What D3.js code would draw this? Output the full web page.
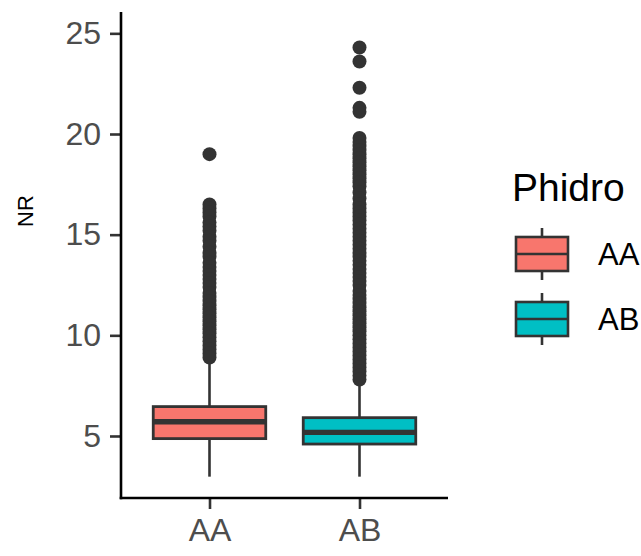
<!DOCTYPE html>
<html>
<head>
<meta charset="utf-8">
<script src="https://cdn.jsdelivr.net/npm/d3@7"></script>
<style>
  html, body { margin: 0; padding: 0; background: #fff; }
  svg { display: block; font-family: "Liberation Sans", Arial, sans-serif; }
</style>
</head>
<body>
<svg id="chart" width="641" height="556"></svg>
<script>
// Genotype groups on the x axis
const categories = ["AA", "AB"];
const fills = ["#F8766D", "#00BFC4"];

// Five-number summaries of NR per group
const lowerWhisker = [2.98, 2.98];
const q1 = [4.87, 4.60];
const median = [5.71, 5.18];
const q3 = [6.46, 5.91];
const upperWhisker = [8.85, 7.70];

// Outlying NR observations
const outliersAA = [19.0, 16.5, 16.3, 16.1, 15.9, 15.6, 15.4, 15.2, 14.9, 14.7, 14.4,
  14.1, 13.9, 13.6, 13.4, 13.2, 13.0, 12.8, 12.6, 12.4, 12.1, 11.9, 11.7, 11.5, 11.3,
  11.1, 10.9, 10.7, 10.5, 10.3, 10.1, 9.9, 9.7, 9.5, 9.3, 9.1, 8.9];
const outliersAB = [24.3, 23.6, 22.3, 21.3, 21.1, 19.8, 19.6, 19.4, 19.2, 19.0, 18.8,
  18.6, 18.4, 18.2, 18.0, 17.8, 17.6, 17.4, 17.1, 16.8, 16.5, 16.3, 16.1, 15.9, 15.7,
  15.5, 15.3, 15.1, 14.9, 14.7, 14.5, 14.3, 14.1, 13.9, 13.7, 13.5, 13.3, 13.1, 12.9,
  12.7, 12.5, 12.2, 12.0, 11.8, 11.6, 11.4, 11.2, 11.0, 10.8, 10.6, 10.4, 10.2, 10.0,
  9.8, 9.6, 9.4, 9.2, 9.0, 8.8, 8.6, 8.4, 8.2, 8.0, 7.8];
const outliers = [outliersAA, outliersAB];

const yTicks = [5, 10, 15, 20, 25];
const yTitle = "NR";
const legendTitle = "Phidro";

const svg = d3.select("#chart");
const ink = "#333333";

const panel = { left: 121, right: 448, top: 12, bottom: 498 };

const y = d3.scaleLinear().domain([1.92, 26.06]).range([panel.bottom, panel.top]);
const x = d3.scalePoint().domain(categories).range([panel.left, panel.right]).padding(0.59);
const boxW = x.step() * 0.75;

// Boxes, whiskers and outliers
const groups = svg.append("g").selectAll("g")
  .data(categories.map((c, i) => ({
    c, fill: fills[i], lo: lowerWhisker[i], q1: q1[i], med: median[i],
    q3: q3[i], hi: upperWhisker[i], out: outliers[i]
  })))
  .join("g");

groups.append("line")
  .attr("x1", d => x(d.c)).attr("x2", d => x(d.c))
  .attr("y1", d => y(d.q3)).attr("y2", d => y(d.hi))
  .attr("stroke", ink).attr("stroke-width", 2.6);
groups.append("line")
  .attr("x1", d => x(d.c)).attr("x2", d => x(d.c))
  .attr("y1", d => y(d.q1)).attr("y2", d => y(d.lo))
  .attr("stroke", ink).attr("stroke-width", 2.6);

groups.selectAll("circle")
  .data(d => d.out.map(v => ({ c: d.c, v })))
  .join("circle")
  .attr("cx", d => x(d.c)).attr("cy", d => y(d.v)).attr("r", 7)
  .attr("fill", ink);

groups.append("rect")
  .attr("x", d => x(d.c) - boxW / 2).attr("width", boxW)
  .attr("y", d => y(d.q3)).attr("height", d => y(d.q1) - y(d.q3))
  .attr("fill", d => d.fill).attr("stroke", ink).attr("stroke-width", 2.8);
groups.append("line")
  .attr("x1", d => x(d.c) - boxW / 2).attr("x2", d => x(d.c) + boxW / 2)
  .attr("y1", d => y(d.med)).attr("y2", d => y(d.med))
  .attr("stroke", ink).attr("stroke-width", 5.4);

// Axes
const yAxis = svg.append("g")
  .attr("transform", `translate(${panel.left},0)`)
  .call(d3.axisLeft(y).tickValues(yTicks).tickSize(11).tickPadding(9));
const xAxis = svg.append("g")
  .attr("transform", `translate(0,${panel.bottom})`)
  .call(d3.axisBottom(x).tickSize(11).tickPadding(9));

[yAxis, xAxis].forEach(a => {
  a.select(".domain").remove();
  a.selectAll(".tick line").attr("stroke", ink).attr("stroke-width", 2.6);
  a.selectAll(".tick text").attr("fill", "#4D4D4D")
    .style("font-size", "32px").style("font-family", "Liberation Sans, Arial, sans-serif");
});

svg.append("line")
  .attr("x1", panel.left).attr("x2", panel.left)
  .attr("y1", panel.top).attr("y2", panel.bottom + 1.3)
  .attr("stroke", "#000").attr("stroke-width", 2.6);
svg.append("line")
  .attr("x1", panel.left - 1.3).attr("x2", panel.right)
  .attr("y1", panel.bottom).attr("y2", panel.bottom)
  .attr("stroke", "#000").attr("stroke-width", 2.6);

svg.append("text")
  .attr("transform", `translate(33,211) rotate(-90)`)
  .attr("text-anchor", "middle")
  .style("font-size", "22px").attr("fill", "#000")
  .text(yTitle);

// Legend
const legend = svg.append("g").attr("transform", "translate(512,0)");
legend.append("text")
  .attr("x", 0).attr("y", 201)
  .style("font-size", "39px").attr("fill", "#000")
  .text(legendTitle);

const keyX = 30, keyW = 52, keyH = 34, keyTop = [237, 302];
const keys = legend.selectAll("g.key")
  .data(categories.map((c, i) => ({ c, fill: fills[i], top: keyTop[i] })))
  .join("g").attr("class", "key");
keys.append("line")
  .attr("x1", keyX).attr("x2", keyX)
  .attr("y1", d => d.top - 9).attr("y2", d => d.top + keyH + 9)
  .attr("stroke", ink).attr("stroke-width", 2.6);
keys.append("rect")
  .attr("x", keyX - keyW / 2).attr("width", keyW)
  .attr("y", d => d.top).attr("height", keyH)
  .attr("fill", d => d.fill).attr("stroke", ink).attr("stroke-width", 2.6);
keys.append("line")
  .attr("x1", keyX - keyW / 2).attr("x2", keyX + keyW / 2)
  .attr("y1", d => d.top + keyH / 2).attr("y2", d => d.top + keyH / 2)
  .attr("stroke", ink).attr("stroke-width", 2.6);
keys.append("text")
  .attr("x", 86).attr("y", d => d.top + keyH / 2 + 11)
  .style("font-size", "31px").attr("fill", "#000")
  .text(d => d.c);
</script>
</body>
</html>
